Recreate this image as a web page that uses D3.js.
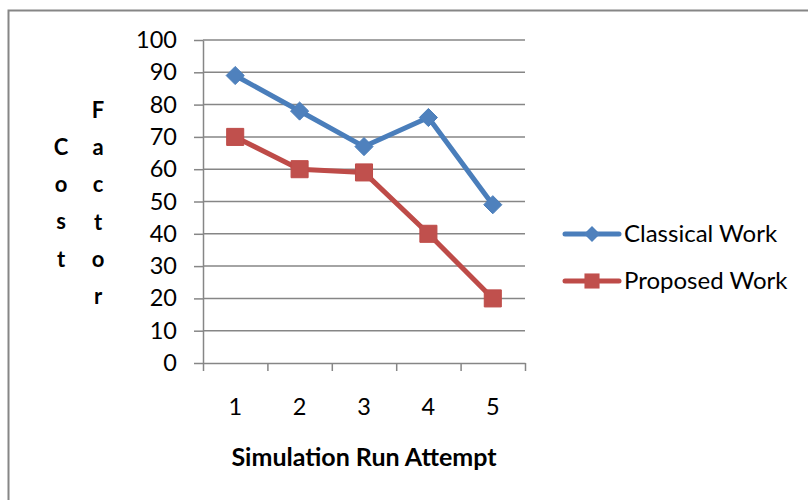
<!DOCTYPE html>
<html>
<head>
<meta charset="utf-8">
<script src="https://cdn.jsdelivr.net/npm/d3@7"></script>
<style>
  html, body { margin: 0; padding: 0; background: #fff; }
  svg { display: block; font-family: Lato, "Open Sans", sans-serif; }
</style>
</head>
<body>
<div id="chart"></div>
<script>
// ---- Data -------------------------------------------------------------------
const runs = [1, 2, 3, 4, 5];
const classicalWork = [89, 78, 67, 76, 49];
const proposedWork = [70, 60, 59, 40, 20];
const yTicks = [0, 10, 20, 30, 40, 50, 60, 70, 80, 90, 100];
const seriesNames = ["Classical Work", "Proposed Work"];
const yTitleWords = ["Cost", "Factor"];
const xTitle = "Simulation Run Attempt";

// ---- Layout -----------------------------------------------------------------
const width = 808, height = 500;
const plot = { left: 203, right: 525, top: 40, bottom: 363 };
const axisGrey = "#868686";
const blue = { line: "#4A7EBB", fill: "#4F81BD" };
const red = { line: "#BE4B48", fill: "#C0504D" };

const svg = d3.select("#chart").append("svg")
  .attr("width", width)
  .attr("height", height);

// chart area border (only left/top are inside the crop)
svg.append("path")
  .attr("d", `M8.5,${height} V10.5 H${width}`)
  .attr("fill", "none")
  .attr("stroke", axisGrey)
  .attr("stroke-width", 2);

const x = d3.scaleLinear()
  .domain([d3.min(runs) - 0.5, d3.max(runs) + 0.5])
  .range([plot.left, plot.right]);

const y = d3.scaleLinear()
  .domain([0, 100])
  .range([plot.bottom, plot.top]);

// gridlines
svg.append("g")
  .selectAll("line")
  .data(yTicks.filter(d => d > 0))
  .join("line")
  .attr("x1", plot.left).attr("x2", plot.right)
  .attr("y1", d => y(d)).attr("y2", d => y(d))
  .attr("stroke", axisGrey)
  .attr("stroke-width", 1.5);

// y axis
const yAxis = svg.append("g")
  .attr("transform", `translate(${plot.left},0)`)
  .call(d3.axisLeft(y).tickValues(yTicks).tickSize(9).tickPadding(17).tickSizeOuter(0));
yAxis.select(".domain").attr("stroke", axisGrey).attr("stroke-width", 1.5);
yAxis.selectAll(".tick line").attr("stroke", axisGrey).attr("stroke-width", 1.5);
yAxis.selectAll(".tick text")
  .attr("font-family", "Lato, sans-serif")
  .attr("font-size", 23.5)
  .attr("fill", "#000");

// x axis: ticks between categories, labels at centres
const boundaries = runs.map(d => d - 0.5).concat([d3.max(runs) + 0.5]);
const xAxis = svg.append("g")
  .attr("transform", `translate(0,${plot.bottom})`)
  .call(d3.axisBottom(x).tickValues(boundaries).tickSize(8).tickFormat("").tickSizeOuter(0));
xAxis.select(".domain").attr("stroke", axisGrey).attr("stroke-width", 1.5);
xAxis.selectAll(".tick line").attr("stroke", axisGrey).attr("stroke-width", 1.5);

svg.append("g")
  .selectAll("text")
  .data(runs)
  .join("text")
  .attr("x", d => x(d))
  .attr("y", 415)
  .attr("text-anchor", "middle")
  .attr("font-size", 23.5)
  .text(d => d);

// axis titles
svg.append("text")
  .attr("x", x((d3.min(runs) + d3.max(runs)) / 2))
  .attr("y", 466)
  .attr("text-anchor", "middle")
  .attr("font-size", 25)
  .attr("font-weight", "bold")
  .text(xTitle);

// stacked vertical letters "Cost" / "Factor"
const colX = [61, 98];
const colStartY = [155, 118];
yTitleWords.forEach((word, wi) => {
  svg.append("g")
    .selectAll("text")
    .data(word.split(""))
    .join("text")
    .attr("x", colX[wi])
    .attr("y", (d, i) => colStartY[wi] + i * 37.2)
    .attr("text-anchor", "middle")
    .attr("font-size", 22)
    .attr("font-weight", "bold")
    .text(d => d);
});

// ---- Series -----------------------------------------------------------------
const line = d3.line().x((d, i) => x(runs[i])).y(d => y(d));
const diamond = d3.symbol().type(d3.symbolDiamond2).size(210);
const square = d3.symbol().type(d3.symbolSquare2).size(370);

const series = [
  { name: seriesNames[0], values: classicalWork, col: blue, sym: diamond },
  { name: seriesNames[1], values: proposedWork, col: red, sym: square }
];

series.forEach(s => {
  svg.append("path")
    .attr("d", line(s.values))
    .attr("fill", "none")
    .attr("stroke", s.col.line)
    .attr("stroke-width", 5)
    .attr("stroke-linejoin", "round");
  svg.append("g")
    .selectAll("path")
    .data(s.values)
    .join("path")
    .attr("transform", (d, i) => `translate(${x(runs[i])},${y(d)})`)
    .attr("d", s.sym)
    .attr("fill", s.col.fill)
    .attr("stroke", s.col.line)
    .attr("stroke-width", 1);
});

// ---- Legend -----------------------------------------------------------------
const legendY = [234, 281];
series.forEach((s, i) => {
  const g = svg.append("g").attr("transform", `translate(0,${legendY[i]})`);
  g.append("line")
    .attr("x1", 565).attr("x2", 619)
    .attr("stroke", s.col.line)
    .attr("stroke-width", 5)
    .attr("stroke-linecap", "round");
  g.append("path")
    .attr("transform", "translate(592,0)")
    .attr("d", i === 0 ? d3.symbol().type(d3.symbolDiamond2).size(165) : d3.symbol().type(d3.symbolSquare2).size(290))
    .attr("fill", s.col.fill);
  g.append("text")
    .attr("x", 624)
    .attr("y", 8)
    .attr("font-size", 24)
    .text(s.name);
});
</script>
</body>
</html>
